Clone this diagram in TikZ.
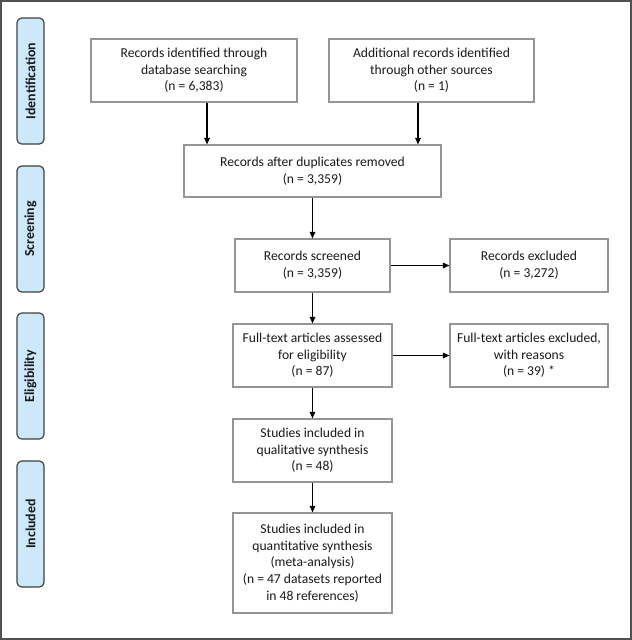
\documentclass[tikz,border=0pt]{standalone}
\usepackage{fontspec}
\setmainfont{Carlito}
\usetikzlibrary{arrows.meta,calc}
\definecolor{boxgray}{HTML}{959595}
\definecolor{sidefill}{HTML}{CCE8F9}
\definecolor{sideline}{HTML}{404040}
\definecolor{framegray}{HTML}{505050}
\definecolor{txt}{HTML}{1A1A1A}
\tikzset{
  flowbox/.style={draw=boxgray,line width=0.8pt,fill=white,align=center,inner sep=0pt,
    text=txt,font=\fontsize{10.2}{12.5}\selectfont},
  sidebox/.style={draw=sideline,line width=0.9pt,fill=sidefill,rounded corners=3.5pt,
    minimum width=20.25pt,minimum height=94.5pt,inner sep=0pt},
  sidetext/.style={rotate=90,font=\fontsize{10.4}{12}\selectfont\bfseries,text=txt},
  arr/.style={line width=0.95pt,draw=black,-{Triangle[length=5pt,width=4.2pt]}}
}
\begin{document}
\begin{tikzpicture}[x=0.75pt,y=-0.75pt]
\useasboundingbox (0,0) rectangle (632,640);
\draw[framegray,line width=1.4pt] (1,1) rectangle (631,639);
% side labels
\node[sidebox] (sid) at (30.5,81) {};
\node[sidetext] (tid) at (sid.center) {Identification};
\node[sidebox] (ssc) at (30.5,229) {};
\node[sidetext] (tsc) at (ssc.center) {Screening};
\node[sidebox] (sel) at (30.5,376) {};
\node[sidetext] (tel) at (sel.center) {Eligibility};
\node[sidebox] (sin) at (30.5,524) {};
\node[sidetext] (tin) at (sin.center) {Included};
% boxes
\node[flowbox,minimum width=154.5pt,minimum height=47.25pt] (db) at (194,70.5)
  {Records identified through\\database searching\\(n = 6,383)};
\node[flowbox,minimum width=153.75pt,minimum height=47.25pt] (other) at (431.5,70.5)
  {Additional records identified\\through other sources\\(n = 1)};
\node[flowbox,minimum width=192.75pt,minimum height=39pt] (dup) at (312.5,171)
  {Records after duplicates removed\\(n = 3,359)};
\node[flowbox,minimum width=116.25pt,minimum height=39.75pt] (scr) at (312.5,265.5)
  {Records screened\\(n = 3,359)};
\node[flowbox,minimum width=118.5pt,minimum height=39.75pt] (exc) at (529,265.5)
  {Records excluded\\(n = 3,272)};
\node[flowbox,minimum width=119.25pt,minimum height=47.25pt] (ft) at (312.5,355.5)
  {Full-text articles assessed\\for eligibility\\(n = 87)};
\node[flowbox,minimum width=118.5pt,minimum height=47.25pt] (ftx) at (529,355.5)
  {Full-text articles excluded,\\with reasons\\(n = 39) *};
\node[flowbox,minimum width=119.25pt,minimum height=47.25pt] (qual) at (312.5,450.5)
  {Studies included in\\qualitative synthesis\\(n = 48)};
\node[flowbox,minimum width=119.25pt,minimum height=75pt] (quant) at (312.5,563)
  {Studies included in\\quantitative synthesis\\(meta-analysis)\\(n = 47 datasets reported\\in 48 references)};
% arrows
\coordinate (a1) at ($(db.south)+(13,0)$);
\coordinate (a2) at ($(other.south)+(-13.5,0)$);
\draw[arr] (a1) -- (a1 |- dup.north);
\draw[arr] (a2) -- (a2 |- dup.north);
\draw[arr] (dup.south) -- (scr.north);
\draw[arr] (scr.east) -- (exc.west);
\draw[arr] (scr.south) -- (ft.north);
\draw[arr] (ft.east) -- (ftx.west);
\draw[arr] (ft.south) -- (qual.north);
\draw[arr] (qual.south) -- (quant.north);
\end{tikzpicture}
\end{document}
